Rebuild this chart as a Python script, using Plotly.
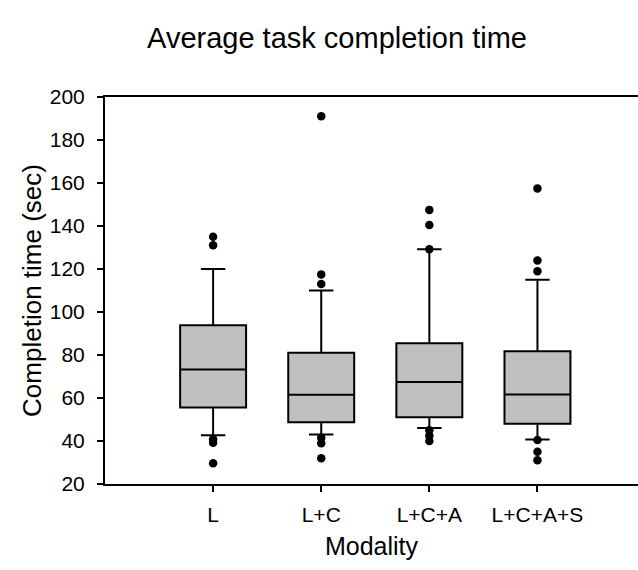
import plotly.graph_objects as go

categories = ["L", "L+C", "L+C+A", "L+C+A+S"]
q1 = [55.6, 48.7, 51.0, 48.0]
median = [73.3, 61.5, 67.4, 61.6]
q3 = [93.8, 81.0, 85.5, 81.8]
lower_whisker = [42.7, 43.0, 46.0, 40.7]
upper_whisker = [120.0, 110.0, 129.2, 115.0]
outliers = {
    "L": [135, 131, 40.8, 39.2, 29.6],
    "L+C": [191, 117.5, 113, 41.5, 39, 32],
    "L+C+A": [147.5, 140.5, 129.2, 45, 42.5, 40],
    "L+C+A+S": [157.5, 124, 119, 40.5, 35, 31],
}

FONT = "Arial, 'Liberation Sans', sans-serif"

fig = go.Figure()
fig.add_trace(go.Box(
    x=categories, q1=q1, median=median, q3=q3,
    lowerfence=lower_whisker, upperfence=upper_whisker,
    fillcolor="#c0c0c0", line=dict(color="black", width=2),
    width=0.61, whiskerwidth=0.37, boxpoints=False, showlegend=False,
))
ox, oy = [], []
for c in categories:
    for v in outliers[c]:
        ox.append(c)
        oy.append(v)
fig.add_trace(go.Scatter(
    x=ox, y=oy, mode="markers",
    marker=dict(color="black", size=8.5), showlegend=False,
))

fig.update_layout(
    width=638, height=570,
    margin=dict(l=105, r=0, t=97, b=86),
    paper_bgcolor="white", plot_bgcolor="white",
    font=dict(family=FONT, color="black"),
    title=dict(text="Average task completion time", font=dict(size=29, color="black"),
               xref="container", x=337/638, xanchor="center",
               yref="container", y=1-38/570, yanchor="middle"),
)
fig.update_xaxes(
    type="category", categoryorder="array", categoryarray=categories,
    range=[-1, 3.93],
    showline=True, linecolor="black", linewidth=2, mirror=True,
    ticks="outside", ticklen=6, tickwidth=2, tickcolor="black",
    ticklabelstandoff=5,
    tickfont=dict(size=21), showgrid=False, zeroline=False,
    title=dict(text="Modality", font=dict(size=25), standoff=12),
)
fig.update_yaxes(
    range=[20, 200], tickvals=[20, 40, 60, 80, 100, 120, 140, 160, 180, 200],
    showline=True, linecolor="black", linewidth=2,
    ticks="outside", ticklen=6, tickwidth=2, tickcolor="black",
    ticklabelstandoff=8,
    tickfont=dict(size=21), showgrid=False, zeroline=False,
    title=dict(text="Completion time (sec)", font=dict(size=26), standoff=1),
)
fig.write_html("out.html", config={"displayModeBar": False},
               post_script="document.body.style.margin='0';")
